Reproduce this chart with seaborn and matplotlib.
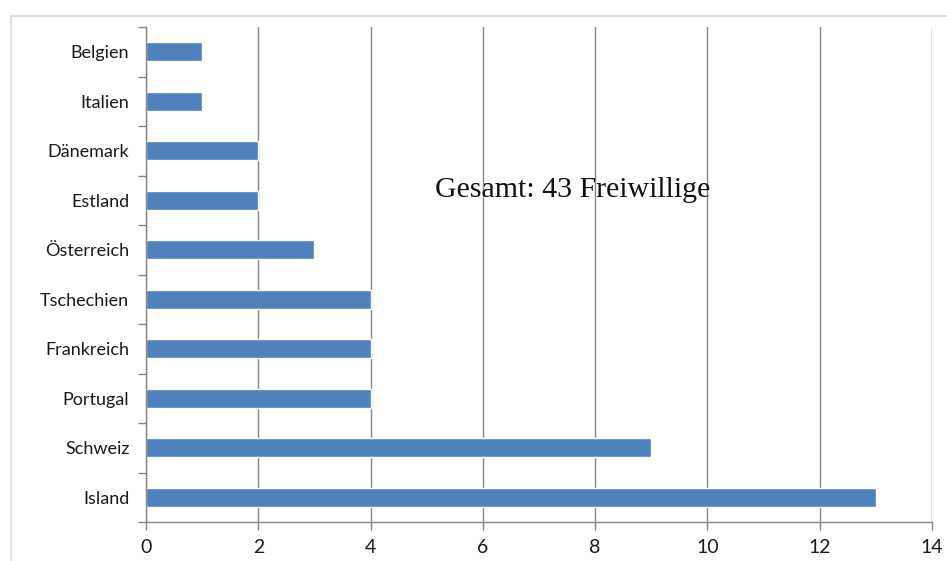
import matplotlib
matplotlib.use("Agg")
import matplotlib.pyplot as plt
import seaborn as sns
import pandas as pd
import numpy as np

# Freiwillige pro Land
countries = ["Belgien", "Italien", "Dänemark", "Estland", "Österreich",
             "Tschechien", "Frankreich", "Portugal", "Schweiz", "Island"]
volunteers = [1, 1, 2, 2, 3, 4, 4, 4, 9, 13]
x_ticks = [0, 2, 4, 6, 8, 10, 12, 14]
note = "Gesamt: 43 Freiwillige"

df = pd.DataFrame({"land": countries, "anzahl": volunteers})

sns.set_style("white")
plt.rcParams["font.family"] = ["Lato", "DejaVu Sans"]

fig = plt.figure(figsize=(9.47, 5.61), dpi=100)
ax = fig.add_axes([146 / 947, 1 - 522 / 561, (932 - 146) / 947, (522 - 27) / 561])

# outer chart frame
frame = plt.Rectangle((11 / 947, -0.1), 2, 1 - 16 / 561 + 0.1,
                      transform=fig.transFigure, fill=False,
                      edgecolor="#d9d9d9", linewidth=1.2)
fig.patches.append(frame)

sns.barplot(data=df, x="anzahl", y="land", color="#4f81bd", saturation=1,
            width=0.38, ax=ax)

ax.set_xlim(0, 14)
ax.set_ylim(9.5, -0.5)
ax.set_xticks(x_ticks)
ax.set_xlabel("")
ax.set_ylabel("")

# grid lines
ax.set_axisbelow(True)
ax.grid(axis="x", color="#868686", linewidth=1)

for side in ["top", "right"]:
    ax.spines[side].set_visible(False)
for side in ["left", "bottom"]:
    ax.spines[side].set_color("#868686")
    ax.spines[side].set_linewidth(1)

# category ticks between the bars, like Excel
ax.set_yticks(np.arange(-0.5, 10, 1), minor=True)
ax.tick_params(axis="y", which="major", length=0, pad=12, labelsize=13,
               labelcolor="#1a1a1a")
ax.tick_params(axis="y", which="minor", left=True, length=6, width=1,
               color="#868686")
ax.tick_params(axis="x", which="major", bottom=True, length=6, width=1,
               color="#868686", labelsize=14, labelcolor="#1a1a1a", pad=6)

ax.text(5.15, 2.8, note, ha="left", va="center", fontsize=21.5,
        family=["Liberation Serif", "DejaVu Serif"], color="#111111")

fig.savefig("out.png", dpi=100)
